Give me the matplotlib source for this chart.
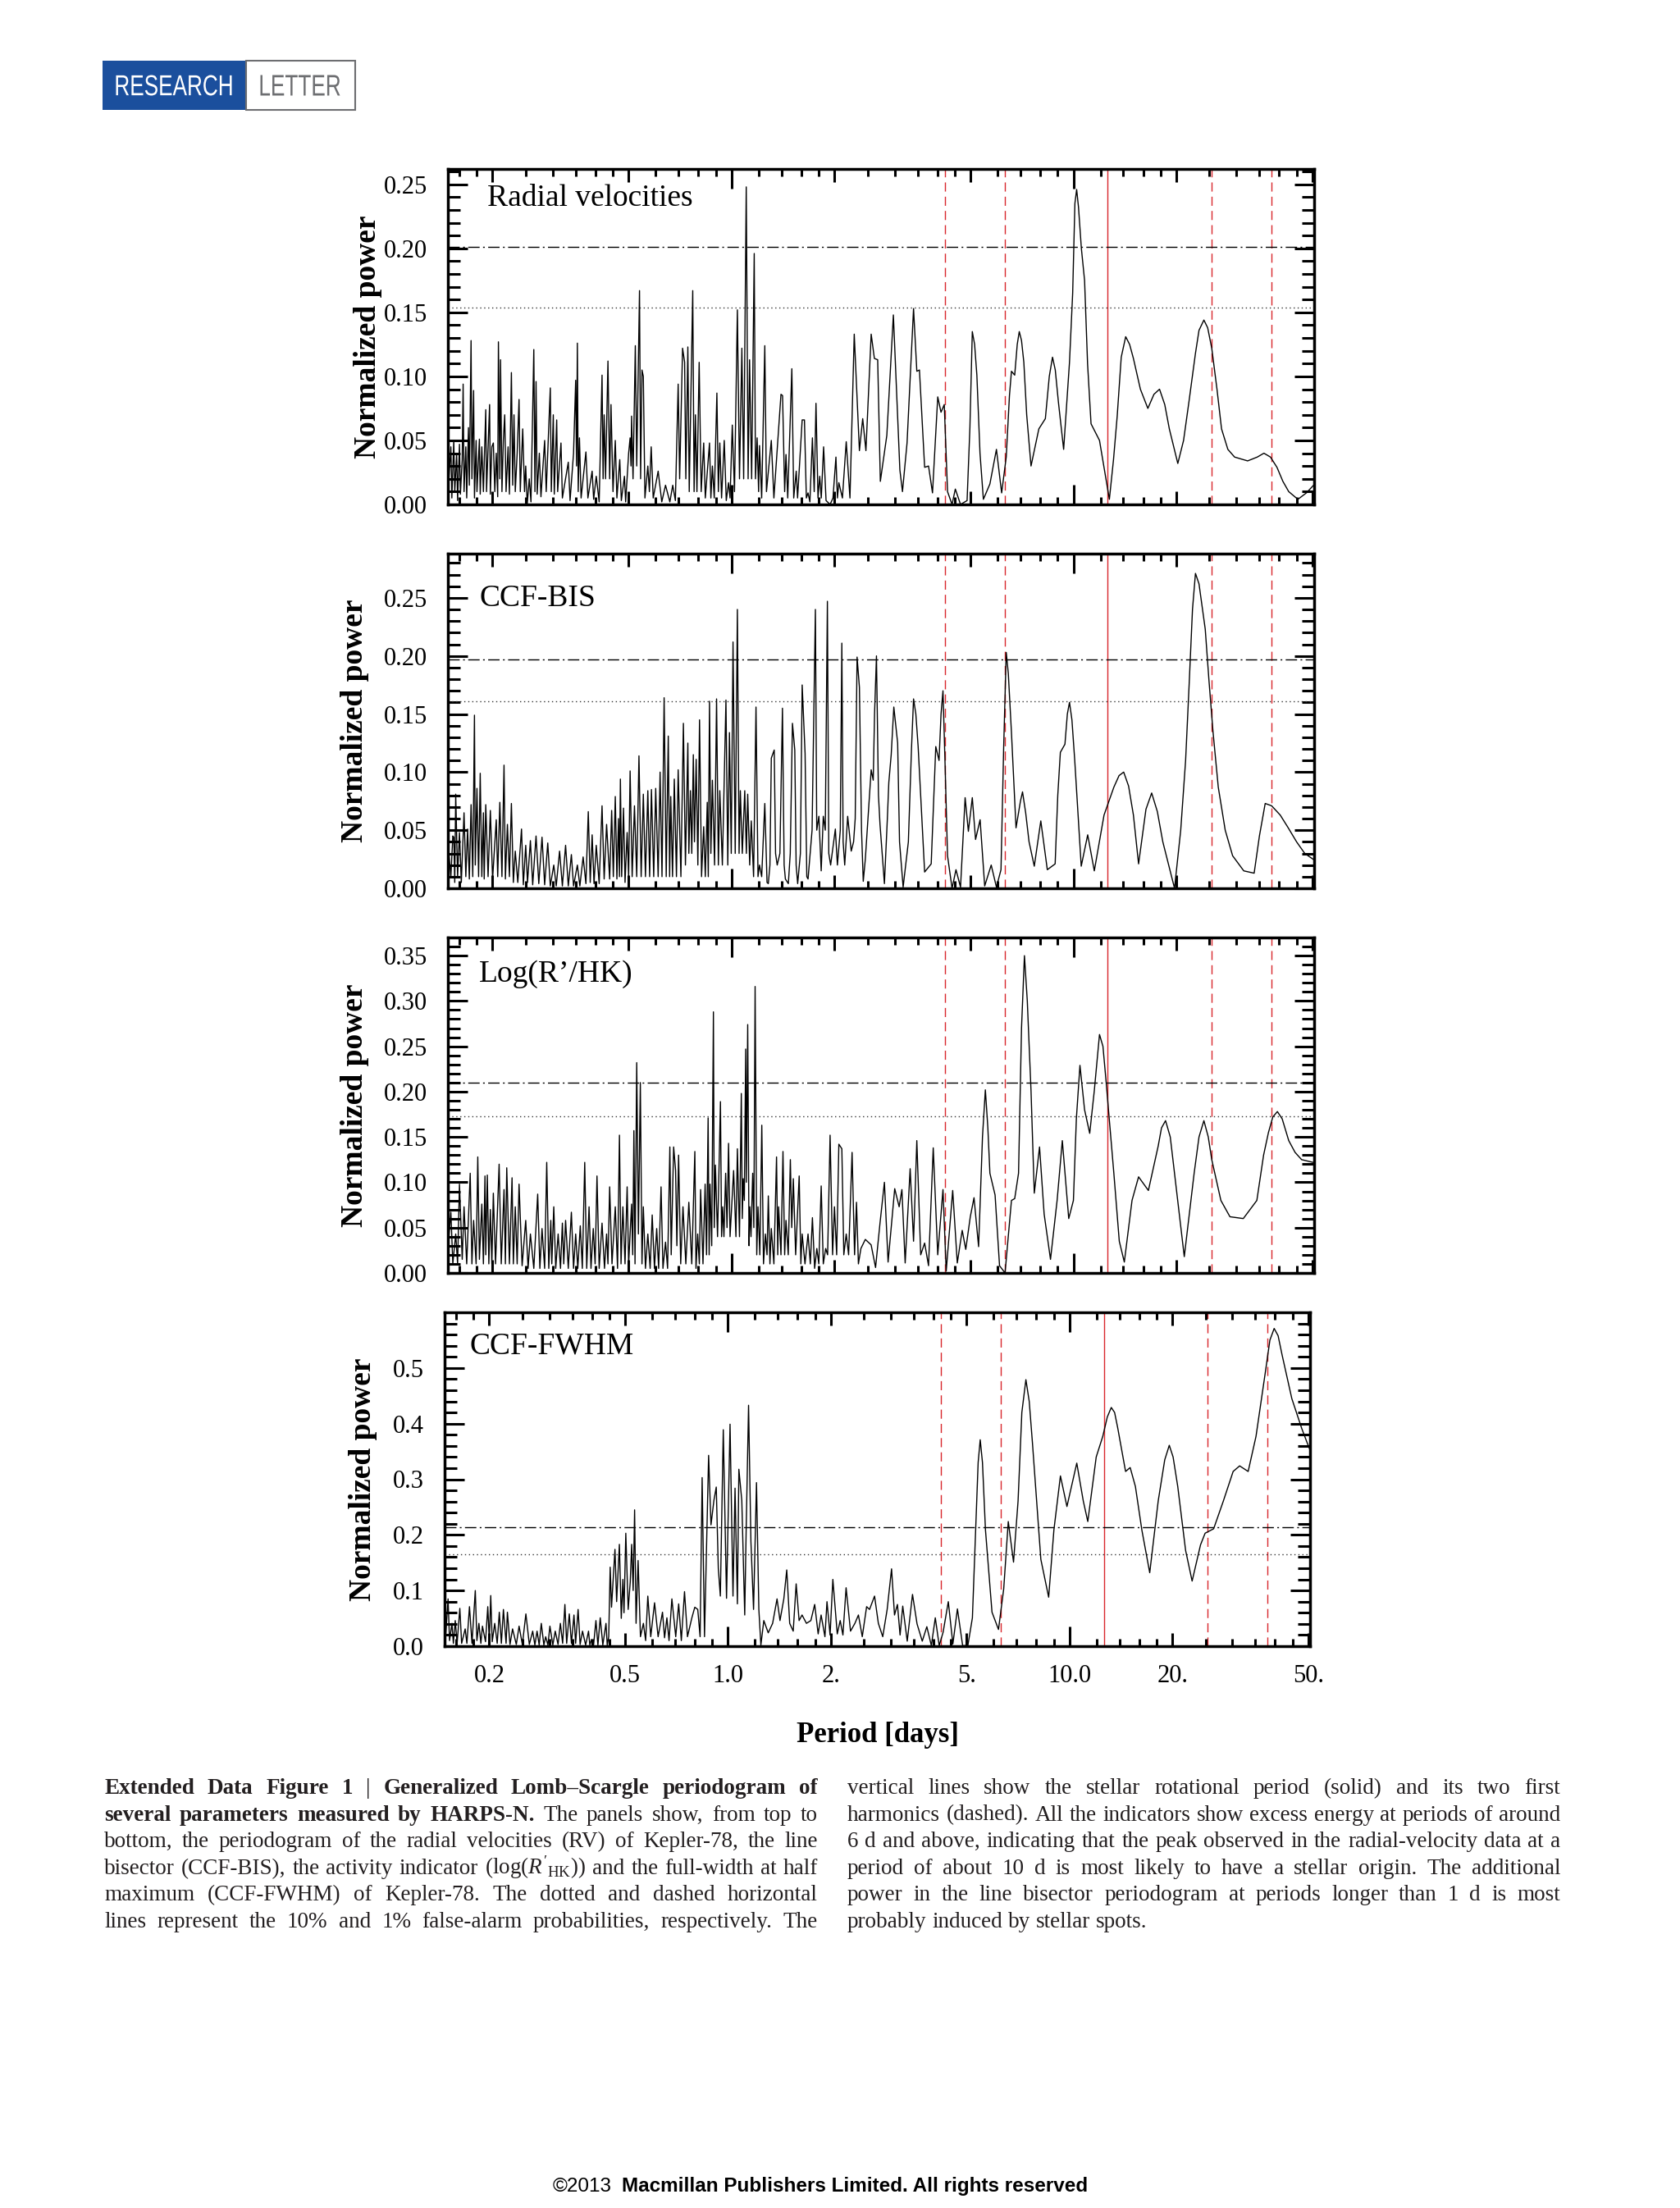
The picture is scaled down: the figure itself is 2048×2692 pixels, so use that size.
import numpy as np
import matplotlib
matplotlib.use("Agg")
import matplotlib.pyplot as plt
from matplotlib.patches import Rectangle, PathPatch
from matplotlib.textpath import TextPath
from matplotlib.font_manager import FontProperties
from matplotlib.transforms import Affine2D
from matplotlib.ticker import FixedLocator, FixedFormatter, NullFormatter, FormatStrFormatter

W, H = 2048, 2692
plt.rcParams['font.family'] = ['Liberation Serif', 'DejaVu Serif']
plt.rcParams['mathtext.fontset'] = 'custom'
plt.rcParams['mathtext.rm'] = 'Liberation Serif'
plt.rcParams['mathtext.it'] = 'Liberation Serif:italic'
plt.rcParams['mathtext.bf'] = 'Liberation Serif:bold'

# (period [d], normalized power)
rv_points = [
    (0.149,0.020),(0.151,0.045),(0.152,0.005),(0.154,0.050),(0.155,0.010),(0.157,0.040),(0.158,0.003),(0.160,0.047),(0.161,0.008),(0.163,0.035),
    (0.164,0.094),(0.165,0.010),(0.167,0.045),(0.168,0.005),(0.170,0.060),(0.171,0.015),(0.173,0.128),(0.174,0.020),(0.176,0.089),(0.177,0.005),
    (0.179,0.050),(0.180,0.010),(0.183,0.051),(0.184,0.008),(0.186,0.045),(0.188,0.010),(0.191,0.074),(0.192,0.010),(0.196,0.078),(0.197,0.008),
    (0.199,0.045),(0.201,0.048),(0.203,0.010),(0.205,0.040),(0.207,0.006),(0.208,0.127),(0.210,0.020),(0.211,0.113),(0.213,0.010),(0.215,0.050),
    (0.217,0.070),(0.219,0.010),(0.222,0.045),(0.224,0.008),(0.227,0.103),(0.229,0.015),(0.231,0.070),(0.233,0.010),(0.236,0.040),(0.239,0.082),
    (0.241,0.010),(0.245,0.059),(0.248,0.010),(0.250,0.030),(0.2525,0.000),(0.256,0.020),(0.259,0.002),(0.264,0.121),(0.266,0.010),(0.268,0.096),
    (0.270,0.008),(0.274,0.040),(0.277,0.006),(0.284,0.050),(0.287,0.010),(0.295,0.091),(0.297,0.010),(0.301,0.070),(0.303,0.008),(0.308,0.066),
    (0.310,0.010),(0.317,0.048),(0.320,0.005),(0.333,0.033),(0.337,0.003),(0.345,0.040),(0.350,0.097),(0.352,0.030),(0.354,0.126),(0.356,0.010),
    (0.359,0.052),(0.363,0.005),(0.375,0.041),(0.380,0.005),(0.391,0.026),(0.395,0.004),(0.402,0.022),(0.410,0.002),(0.418,0.101),(0.421,0.020),
    (0.424,0.070),(0.428,0.020),(0.435,0.112),(0.440,0.020),(0.444,0.078),(0.450,0.010),(0.457,0.050),(0.462,0.005),(0.471,0.035),(0.476,0.003),
    (0.486,0.022),(0.490,0.002),(0.500,0.040),(0.505,0.052),(0.508,0.030),(0.510,0.069),(0.515,0.020),(0.523,0.124),(0.528,0.030),(0.538,0.167),
    (0.542,0.020),(0.547,0.105),(0.552,0.100),(0.558,0.005),(0.569,0.030),(0.575,0.010),(0.582,0.045),(0.590,0.005),(0.610,0.026),(0.625,0.002),
    (0.641,0.015),(0.660,0.002),(0.673,0.015),(0.685,0.003),(0.698,0.094),(0.705,0.020),(0.719,0.122),(0.729,0.111),(0.735,0.020),(0.745,0.123),
    (0.752,0.010),(0.770,0.167),(0.777,0.010),(0.784,0.070),(0.792,0.010),(0.804,0.111),(0.815,0.010),(0.829,0.048),(0.838,0.005),(0.862,0.048),
    (0.870,0.005),(0.879,0.030),(0.890,0.005),(0.906,0.087),(0.915,0.010),(0.924,0.048),(0.935,0.005),(0.952,0.050),(0.965,0.003),(0.980,0.017),
    (0.990,0.005),(1.005,0.062),(1.020,0.010),(1.040,0.152),(1.055,0.020),(1.072,0.122),(1.085,0.020),(1.104,0.248),(1.118,0.020),(1.129,0.113),
    (1.145,0.020),(1.165,0.196),(1.175,0.020),(1.188,0.052),(1.200,0.010),(1.207,0.046),(1.225,0.005),(1.251,0.124),(1.265,0.010),(1.307,0.050),
    (1.330,0.005),(1.395,0.086),(1.410,0.085),(1.430,0.010),(1.443,0.039),(1.460,0.005),(1.501,0.106),(1.520,0.005),(1.546,0.026),(1.560,0.005),
    (1.609,0.066),(1.634,0.066),(1.655,0.005),(1.674,0.009),(1.695,0.002),(1.724,0.052),(1.745,0.010),(1.766,0.079),(1.790,0.005),(1.811,0.022),
    (1.830,0.005),(1.859,0.045),(1.890,0.003),(1.942,0.000),(1.980,0.005),(2.020,0.037),(2.040,0.005),(2.060,0.017),(2.110,0.005),(2.165,0.049),
    (2.220,0.005),(2.285,0.133),(2.366,0.042),(2.419,0.067),(2.472,0.042),(2.561,0.133),(2.617,0.114),(2.676,0.113),(2.724,0.018),(2.846,0.054),
    (2.974,0.148),(3.107,0.027),(3.162,0.010),(3.261,0.048),(3.407,0.153),(3.483,0.104),(3.545,0.105),(3.671,0.029),(3.769,0.030),(3.871,0.009),
    (4.010,0.084),(4.099,0.072),(4.190,0.078),(4.283,0.010),(4.416,0.000),(4.514,0.012),(4.675,0.000),(4.886,0.003),(4.980,0.060),(5.061,0.135),
    (5.140,0.125),(5.219,0.101),(5.330,0.040),(5.453,0.004),(5.698,0.016),(5.954,0.043),(6.167,0.009),(6.360,0.037),(6.500,0.085),(6.588,0.104),
    (6.734,0.101),(6.850,0.125),(6.944,0.135),(7.050,0.128),(7.161,0.111),(7.300,0.070),(7.516,0.030),(7.923,0.059),(8.278,0.067),(8.500,0.100),
    (8.687,0.115),(8.850,0.105),(9.038,0.080),(9.363,0.043),(9.739,0.111),(9.950,0.165),(10.10,0.235),(10.22,0.246),(10.35,0.232),(10.55,0.200),
    (10.78,0.175),(11.00,0.110),(11.26,0.063),(11.92,0.050),(12.74,0.004),(13.10,0.035),(13.43,0.069),(13.80,0.115),(14.22,0.131),(14.60,0.125),
    (14.98,0.114),(15.70,0.090),(16.51,0.075),(17.20,0.086),(17.86,0.090),(18.50,0.078),(19.08,0.059),(20.20,0.032),(21.00,0.050),(21.77,0.080),
    (22.75,0.118),(23.30,0.136),(24.08,0.144),(24.70,0.138),(25.39,0.122),(26.30,0.090),(27.12,0.059),(28.30,0.043),(29.61,0.037),(32.33,0.034),
    (34.50,0.037),(36.08,0.040),(37.70,0.037),(39.39,0.029),(41.00,0.018),(42.64,0.010),(45.35,0.004),(48.02,0.009),(50.82,0.016),
]

bis_points = [
    (0.149,0.030),(0.151,0.010),(0.153,0.045),(0.154,0.044),(0.155,0.005),(0.156,0.081),(0.158,0.010),(0.160,0.048),(0.162,0.005),(0.165,0.065),
    (0.167,0.010),(0.169,0.051),(0.171,0.008),(0.173,0.072),(0.175,0.010),(0.177,0.149),(0.178,0.020),(0.180,0.086),(0.182,0.010),(0.184,0.099),
    (0.186,0.010),(0.188,0.065),(0.189,0.008),(0.191,0.072),(0.194,0.010),(0.197,0.067),(0.200,0.008),(0.205,0.059),(0.207,0.010),(0.210,0.074),
    (0.213,0.010),(0.216,0.106),(0.218,0.008),(0.221,0.055),(0.224,0.010),(0.227,0.073),(0.230,0.005),(0.233,0.032),(0.237,0.005),(0.243,0.051),
    (0.246,0.003),(0.250,0.037),(0.253,0.005),(0.258,0.041),(0.262,0.003),(0.268,0.045),(0.273,0.004),(0.279,0.044),(0.284,0.003),(0.290,0.039),
    (0.295,0.002),(0.302,0.020),(0.307,0.002),(0.314,0.032),(0.320,0.002),(0.327,0.037),(0.333,0.002),(0.340,0.029),(0.345,0.002),(0.354,0.020),
    (0.360,0.002),(0.368,0.027),(0.375,0.004),(0.381,0.066),(0.386,0.005),(0.391,0.046),(0.396,0.004),(0.402,0.037),(0.410,0.004),(0.418,0.071),
    (0.424,0.008),(0.431,0.055),(0.440,0.008),(0.446,0.067),(0.451,0.010),(0.457,0.079),(0.462,0.008),(0.467,0.060),(0.470,0.010),(0.473,0.094),
    (0.477,0.010),(0.483,0.069),(0.488,0.005),(0.495,0.048),(0.500,0.010),(0.505,0.101),(0.512,0.010),(0.520,0.071),(0.528,0.010),(0.536,0.114),
    (0.544,0.010),(0.552,0.081),(0.560,0.010),(0.569,0.084),(0.576,0.010),(0.583,0.085),(0.592,0.010),(0.600,0.086),(0.610,0.010),(0.618,0.100),
    (0.626,0.010),(0.635,0.164),(0.644,0.010),(0.653,0.131),(0.659,0.010),(0.664,0.079),(0.672,0.010),(0.680,0.094),(0.690,0.010),(0.698,0.102),
    (0.711,0.010),(0.723,0.142),(0.733,0.020),(0.745,0.125),(0.750,0.030),(0.758,0.084),(0.765,0.030),(0.773,0.115),(0.779,0.040),(0.788,0.111),
    (0.797,0.020),(0.806,0.145),(0.817,0.010),(0.829,0.053),(0.838,0.010),(0.849,0.074),(0.855,0.010),(0.862,0.161),(0.870,0.030),(0.879,0.093),
    (0.892,0.020),(0.904,0.163),(0.915,0.020),(0.924,0.084),(0.940,0.020),(0.963,0.162),(0.975,0.020),(0.986,0.134),(0.998,0.030),(1.010,0.212),
    (1.025,0.030),(1.040,0.240),(1.052,0.030),(1.061,0.084),(1.075,0.030),(1.093,0.084),(1.105,0.030),(1.115,0.081),(1.130,0.020),(1.142,0.058),
    (1.160,0.010),(1.179,0.156),(1.195,0.010),(1.207,0.020),(1.225,0.010),(1.251,0.073),(1.270,0.005),(1.281,0.004),(1.295,0.020),(1.307,0.112),
    (1.333,0.119),(1.345,0.030),(1.360,0.020),(1.385,0.030),(1.409,0.155),(1.425,0.020),(1.437,0.008),(1.466,0.004),(1.485,0.030),(1.507,0.142),
    (1.531,0.119),(1.545,0.020),(1.561,0.004),(1.590,0.030),(1.609,0.175),(1.641,0.116),(1.660,0.010),(1.674,0.008),(1.720,0.050),(1.759,0.240),
    (1.775,0.050),(1.801,0.062),(1.829,0.015),(1.855,0.062),(1.880,0.050),(1.907,0.247),(1.925,0.030),(1.949,0.020),(2.012,0.051),(2.040,0.020),
    (2.080,0.050),(2.102,0.211),(2.120,0.040),(2.143,0.020),(2.186,0.062),(2.239,0.032),(2.275,0.040),(2.300,0.060),(2.329,0.199),(2.366,0.173),
    (2.400,0.050),(2.428,0.006),(2.462,0.025),(2.561,0.102),(2.597,0.093),(2.620,0.150),(2.654,0.200),(2.690,0.080),(2.718,0.055),(2.800,0.004),
    (2.856,0.060),(2.884,0.091),(2.931,0.115),(2.983,0.156),(3.061,0.125),(3.100,0.040),(3.176,0.001),(3.290,0.040),(3.360,0.120),(3.407,0.163),
    (3.460,0.150),(3.514,0.122),(3.671,0.014),(3.837,0.021),(3.957,0.122),(4.045,0.110),(4.100,0.150),(4.154,0.170),(4.210,0.110),(4.283,0.028),
    (4.416,0.000),(4.534,0.016),(4.675,0.001),(4.822,0.078),(4.929,0.049),(5.061,0.078),(5.173,0.042),(5.334,0.059),(5.501,0.002),(5.748,0.020),
    (5.954,0.001),(6.140,0.016),(6.250,0.120),(6.360,0.203),(6.450,0.185),(6.588,0.134),(6.794,0.052),(7.000,0.075),(7.098,0.083),(7.250,0.065),
    (7.417,0.040),(7.683,0.019),(8.028,0.058),(8.388,0.016),(8.842,0.021),(9.000,0.080),(9.158,0.117),(9.445,0.124),(9.600,0.150),(9.739,0.160),
    (9.900,0.145),(10.09,0.110),(10.54,0.019),(11.01,0.046),(11.51,0.015),(12.29,0.063),(13.13,0.087),(13.60,0.097),(14.03,0.100),(14.50,0.088),
    (14.98,0.063),(15.51,0.021),(16.30,0.068),(16.94,0.082),(17.60,0.066),(18.26,0.040),(19.76,0.000),(20.60,0.050),(21.29,0.110),(21.80,0.175),
    (22.30,0.240),(22.75,0.271),(23.30,0.262),(24.30,0.223),(24.90,0.180),(25.60,0.135),(26.53,0.087),(27.80,0.050),(29.22,0.028),(31.50,0.015),
    (33.78,0.013),(35.00,0.045),(36.39,0.073),(38.00,0.071),(40.27,0.063),(42.50,0.052),(44.95,0.040),(47.50,0.030),(50.82,0.024),
]

rhk_points = [
    (0.149,0.040),(0.151,0.067),(0.153,0.010),(0.156,0.043),(0.158,0.010),(0.160,0.098),(0.163,0.015),(0.165,0.073),(0.168,0.010),(0.172,0.110),
    (0.174,0.010),(0.176,0.058),(0.179,0.010),(0.181,0.128),(0.183,0.015),(0.186,0.076),(0.188,0.010),(0.190,0.107),(0.191,0.020),(0.193,0.108),
    (0.195,0.010),(0.197,0.070),(0.199,0.010),(0.201,0.088),(0.204,0.010),(0.209,0.120),(0.212,0.010),(0.216,0.092),(0.218,0.010),(0.220,0.116),
    (0.224,0.010),(0.228,0.105),(0.230,0.010),(0.233,0.073),(0.236,0.010),(0.239,0.098),(0.244,0.008),(0.250,0.058),(0.254,0.005),(0.258,0.043),
    (0.264,0.005),(0.271,0.087),(0.275,0.005),(0.279,0.049),(0.284,0.005),(0.288,0.122),(0.292,0.005),(0.296,0.058),(0.298,0.010),(0.302,0.073),
    (0.306,0.005),(0.311,0.043),(0.316,0.005),(0.320,0.055),(0.323,0.010),(0.327,0.058),(0.333,0.005),(0.340,0.067),(0.345,0.005),(0.350,0.043),
    (0.355,0.005),(0.361,0.052),(0.366,0.005),(0.372,0.122),(0.377,0.005),(0.383,0.073),(0.388,0.005),(0.394,0.049),(0.399,0.010),(0.404,0.107),
    (0.410,0.005),(0.418,0.055),(0.425,0.005),(0.431,0.043),(0.435,0.010),(0.440,0.095),(0.447,0.010),(0.457,0.073),(0.464,0.005),(0.470,0.152),
    (0.475,0.010),(0.481,0.073),(0.488,0.010),(0.495,0.095),(0.500,0.010),(0.510,0.076),(0.514,0.020),(0.518,0.157),(0.522,0.010),(0.528,0.232),
    (0.534,0.043),(0.541,0.210),(0.547,0.010),(0.552,0.073),(0.560,0.005),(0.569,0.043),(0.578,0.005),(0.586,0.064),(0.595,0.005),(0.604,0.049),
    (0.612,0.005),(0.622,0.095),(0.630,0.005),(0.641,0.034),(0.650,0.005),(0.660,0.139),(0.666,0.020),(0.677,0.139),(0.686,0.113),(0.692,0.030),
    (0.700,0.130),(0.710,0.010),(0.721,0.073),(0.735,0.010),(0.750,0.078),(0.765,0.010),(0.781,0.134),(0.787,0.005),(0.796,0.043),(0.805,0.010),
    (0.812,0.092),(0.825,0.010),(0.837,0.098),(0.845,0.020),(0.854,0.171),(0.860,0.020),(0.865,0.098),(0.875,0.030),(0.885,0.288),(0.890,0.050),
    (0.897,0.119),(0.910,0.040),(0.928,0.189),(0.935,0.040),(0.942,0.073),(0.950,0.040),(0.961,0.110),(0.970,0.050),(0.980,0.143),(0.990,0.040),
    (1.014,0.113),(1.030,0.040),(1.040,0.137),(1.055,0.040),(1.068,0.198),(1.075,0.060),(1.082,0.104),(1.090,0.080),(1.100,0.247),(1.105,0.100),
    (1.115,0.274),(1.125,0.030),(1.131,0.073),(1.140,0.040),(1.153,0.110),(1.162,0.050),(1.172,0.316),(1.185,0.020),(1.195,0.073),(1.210,0.020),
    (1.226,0.163),(1.240,0.010),(1.256,0.043),(1.270,0.020),(1.281,0.085),(1.295,0.010),(1.307,0.049),(1.330,0.010),(1.354,0.128),(1.365,0.020),
    (1.373,0.073),(1.395,0.020),(1.414,0.134),(1.430,0.020),(1.443,0.058),(1.465,0.020),(1.486,0.125),(1.500,0.050),(1.516,0.104),(1.540,0.020),
    (1.577,0.107),(1.595,0.010),(1.609,0.043),(1.640,0.010),(1.674,0.043),(1.700,0.010),(1.724,0.061),(1.750,0.005),(1.776,0.027),(1.800,0.010),
    (1.829,0.096),(1.855,0.010),(1.885,0.027),(1.910,0.020),(1.942,0.152),(1.975,0.020),(2.000,0.073),(2.030,0.020),(2.060,0.142),(2.102,0.137),
    (2.130,0.020),(2.165,0.043),(2.200,0.020),(2.252,0.133),(2.290,0.020),(2.320,0.078),(2.350,0.010),(2.390,0.027),(2.462,0.037),(2.560,0.031),
    (2.638,0.006),(2.718,0.055),(2.800,0.100),(2.870,0.012),(3.001,0.093),(3.092,0.073),(3.150,0.092),(3.220,0.011),(3.330,0.115),(3.407,0.035),
    (3.483,0.146),(3.575,0.020),(3.671,0.033),(3.769,0.008),(3.890,0.138),(4.010,0.020),(4.154,0.092),(4.245,0.002),(4.435,0.091),(4.574,0.011),
    (4.728,0.047),(4.843,0.026),(4.993,0.062),(5.120,0.083),(5.280,0.029),(5.420,0.150),(5.526,0.202),(5.620,0.160),(5.698,0.110),(5.900,0.086),
    (6.080,0.008),(6.310,0.000),(6.588,0.080),(6.734,0.082),(6.910,0.110),(7.050,0.270),(7.190,0.350),(7.330,0.300),(7.516,0.201),(7.683,0.088),
    (7.960,0.139),(8.210,0.065),(8.570,0.015),(8.960,0.080),(9.280,0.146),(9.690,0.060),(10.00,0.080),(10.20,0.170),(10.45,0.229),(10.78,0.180),
    (11.16,0.154),(11.51,0.201),(11.92,0.263),(12.20,0.250),(12.45,0.213),(13.13,0.110),(13.62,0.035),(14.09,0.012),(14.84,0.080),(15.51,0.106),
    (16.57,0.091),(17.70,0.140),(18.10,0.160),(18.60,0.168),(19.20,0.150),(19.76,0.110),(21.10,0.018),(22.55,0.110),(23.30,0.150),(24.08,0.168),
    (24.80,0.150),(25.39,0.125),(27.00,0.080),(28.70,0.062),(31.40,0.060),(34.40,0.080),(36.00,0.130),(37.20,0.155),(38.30,0.172),(39.50,0.178),
    (40.80,0.170),(42.64,0.146),(44.50,0.133),(46.50,0.125),(50.20,0.122),
]

fwhm_points = [
    (0.149,0.017),(0.1515,0.085),(0.153,0.010),(0.1555,0.041),(0.157,0.005),(0.159,0.046),(0.161,0.005),(0.164,0.068),(0.166,0.005),(0.170,0.031),
    (0.172,0.005),(0.175,0.071),(0.178,0.005),(0.182,0.100),(0.184,0.010),(0.1865,0.041),(0.189,0.005),(0.191,0.036),(0.195,0.008),(0.198,0.071),
    (0.200,0.010),(0.202,0.091),(0.204,0.008),(0.2075,0.041),(0.211,0.005),(0.214,0.061),(0.217,0.005),(0.220,0.066),(0.224,0.005),(0.226,0.061),
    (0.230,0.003),(0.234,0.031),(0.240,0.003),(0.2445,0.036),(0.250,0.003),(0.256,0.058),(0.262,0.003),(0.268,0.027),(0.272,0.002),(0.276,0.027),
    (0.280,0.002),(0.284,0.041),(0.289,0.002),(0.2925,0.017),(0.297,0.002),(0.301,0.036),(0.307,0.002),(0.312,0.027),(0.318,0.003),(0.323,0.041),
    (0.328,0.005),(0.333,0.075),(0.337,0.005),(0.343,0.058),(0.348,0.005),(0.354,0.056),(0.358,0.005),(0.364,0.066),(0.369,0.003),(0.375,0.027),
    (0.383,0.002),(0.3905,0.027),(0.394,0.002),(0.3985,0.012),(0.404,0.002),(0.4105,0.046),(0.416,0.002),(0.4226,0.051),(0.430,0.002),(0.4393,0.041),
    (0.443,0.002),(0.4475,0.017),(0.4519,0.142),(0.4560,0.070),(0.4667,0.174),(0.4720,0.080),(0.4808,0.183),(0.4870,0.050),(0.4923,0.120),(0.4960,0.060),
    (0.5021,0.203),(0.5102,0.066),(0.5173,0.115),(0.5224,0.183),(0.5276,0.100),(0.5328,0.245),(0.5381,0.041),(0.5455,0.154),(0.5542,0.017),(0.5653,0.041),
    (0.574,0.010),(0.5824,0.090),(0.5940,0.017),(0.6095,0.078),(0.6243,0.017),(0.6430,0.061),(0.652,0.015),(0.6624,0.051),(0.672,0.010),(0.6850,0.085),
    (0.7030,0.017),(0.7171,0.076),(0.730,0.010),(0.7459,0.098),(0.7609,0.017),(0.7838,0.051),(0.7995,0.070),(0.8155,0.066),(0.8286,0.017),(0.8400,0.303),
    (0.8535,0.017),(0.8775,0.343),(0.8916,0.218),(0.9094,0.262),(0.9239,0.286),(0.9367,0.140),(0.9497,0.090),(0.9687,0.389),(0.9901,0.086),(1.0139,0.399),
    (1.0342,0.090),(1.0486,0.284),(1.0654,0.076),(1.0760,0.318),(1.0975,0.262),(1.1194,0.056),(1.1306,0.213),(1.1487,0.433),(1.1671,0.188),(1.1880,0.066),
    (1.2118,0.294),(1.2312,0.066),(1.2481,0.002),(1.2731,0.046),(1.3116,0.024),(1.3511,0.041),(1.3919,0.085),(1.4198,0.046),(1.4569,0.085),(1.4860,0.137),
    (1.5157,0.041),(1.5522,0.027),(1.5833,0.112),(1.6150,0.046),(1.6474,0.056),(1.6970,0.041),(1.7482,0.046),(1.7940,0.075),(1.8365,0.022),(1.8733,0.056),
    (1.9222,0.017),(1.9491,0.080),(1.990,0.020),(2.0277,0.120),(2.0889,0.022),(2.1307,0.046),(2.170,0.020),(2.2170,0.105),(2.2840,0.027),(2.3527,0.041),
    (2.4093,0.056),(2.4723,0.017),(2.5460,0.071),(2.5966,0.066),(2.6858,0.090),(2.7558,0.041),(2.8385,0.017),(2.9242,0.066),(3.0124,0.139),(3.0726,0.056),
    (3.1340,0.075),(3.190,0.020),(3.248,0.072),(3.348,0.009),(3.469,0.093),(3.577,0.040),(3.705,0.009),(3.821,0.035),(3.939,0.001),(4.045,0.051),
    (4.153,0.001),(4.264,0.025),(4.416,0.080),(4.554,0.004),(4.696,0.067),(4.864,0.001),(5.038,0.001),(5.195,0.051),(5.311,0.209),(5.400,0.330),
    (5.476,0.371),(5.560,0.330),(5.673,0.209),(5.929,0.061),(6.194,0.030),(6.416,0.103),(6.616,0.224),(6.855,0.151),(7.068,0.261),(7.250,0.420),
    (7.451,0.479),(7.620,0.440),(7.786,0.366),(8.241,0.156),(8.687,0.088),(9.000,0.209),(9.404,0.306),(9.826,0.251),(10.50,0.329),(10.97,0.261),
    (11.31,0.224),(11.97,0.340),(12.51,0.377),(12.90,0.412),(13.25,0.429),(13.55,0.420),(13.84,0.392),(14.59,0.314),(15.05,0.321),(15.59,0.287),
    (16.28,0.209),(17.17,0.132),(18.18,0.261),(19.00,0.335),(19.59,0.361),(20.10,0.340),(20.74,0.287),(21.87,0.172),(22.85,0.117),(24.18,0.182),
    (24.94,0.203),(26.42,0.211),(28.21,0.261),(30.13,0.314),(31.48,0.324),(33.34,0.314),(35.15,0.377),(37.53,0.497),(38.60,0.550),(39.73,0.571),
    (40.80,0.558),(41.89,0.524),(44.75,0.445),(47.80,0.392),(49.95,0.361),(50.80,0.350),
]

panel_names = ["Radial velocities", "CCF-BIS", "Log(R\u2019/HK)", "CCF-FWHM"]
panel_series = [rv_points, bis_points, rhk_points, fwhm_points]
fap_10 = [0.154, 0.161, 0.173, 0.165]   # dotted lines
fap_01 = [0.201, 0.197, 0.210, 0.214]   # dashed lines
rot_period = 12.6
harmonic_periods = [4.2, 6.3, 25.3, 38.0]
y_max = [0.262, 0.288, 0.370, 0.600]
y_ticks = [[0.00, 0.05, 0.10, 0.15, 0.20, 0.25],
           [0.00, 0.05, 0.10, 0.15, 0.20, 0.25],
           [0.00, 0.05, 0.10, 0.15, 0.20, 0.25, 0.30, 0.35],
           [0.0, 0.1, 0.2, 0.3, 0.4, 0.5]]
y_fmt = ['%.2f', '%.2f', '%.2f', '%.1f']
y_minor_step = [0.01, 0.01, 0.01, 0.02]
x_major = [0.2, 0.5, 1.0, 2.0, 5.0, 10.0, 20.0, 50.0]
x_major_labels = ["0.2", "0.5", "1.0", "2.", "5.", "10.0", "20.", "50."]
x_minor = [0.16, 0.18, 0.25, 0.3, 0.35, 0.4, 0.45, 0.6, 0.7, 0.8, 0.9,
           1.2, 1.4, 1.6, 1.8, 2.5, 3, 3.5, 4, 4.5, 6, 7, 8, 9,
           12, 14, 16, 18, 25, 30, 35, 40, 45]

# layout in page pixels: left, top, right, bottom
panel_px = [(546, 206, 1602, 615), (546, 675, 1602, 1083),
            (546, 1143, 1602, 1552), (542, 1600, 1597, 2007)]
name_pos = [(0.045, 0.912), (0.036, 0.866), (0.036, 0.891), (0.029, 0.899)]
ylabel_x = [448, 433, 433, 443]

RED = '#d8262c'
INK = '#231f20'

fig = plt.figure(figsize=(W / 100, H / 100), dpi=100)
fig.patch.set_facecolor('white')

for i in range(4):
    l, t, r, b = panel_px[i]
    ax = fig.add_axes([l / W, 1 - b / H, (r - l) / W, (b - t) / H])
    per = [p for p, _ in panel_series[i]]
    pw = [v for _, v in panel_series[i]]

    ax.axhline(fap_01[i], color='black', lw=1.0, ls=(0, (10, 3, 1.5, 3)), zorder=2)
    ax.axhline(fap_10[i], color='#333333', lw=1.0, ls=(0, (1, 2.5)), zorder=2)
    for hp in harmonic_periods:
        ax.axvline(hp, color=RED, lw=1.0, ls=(0, (8, 4.5)), zorder=1)
    ax.axvline(rot_period, color=RED, lw=1.0, zorder=1)
    ax.plot(per, pw, color='black', lw=1.0, zorder=3)

    ax.set_xscale('log')
    ax.set_xlim(0.148, 50.6)
    ax.set_ylim(0, y_max[i])
    ax.xaxis.set_major_locator(FixedLocator(x_major))
    ax.xaxis.set_minor_locator(FixedLocator(x_minor))
    ax.xaxis.set_minor_formatter(NullFormatter())
    if i == 3:
        ax.xaxis.set_major_formatter(FixedFormatter(x_major_labels))
    else:
        ax.xaxis.set_major_formatter(NullFormatter())
    ax.yaxis.set_major_locator(FixedLocator(y_ticks[i]))
    ax.yaxis.set_minor_locator(FixedLocator(np.arange(0, y_max[i], y_minor_step[i])))
    ax.yaxis.set_major_formatter(FormatStrFormatter(y_fmt[i]))

    ax.tick_params(which='both', direction='in', top=True, right=True, width=2.2,
                   labelsize=22, colors='black')
    ax.tick_params(axis='x', which='major', length=11.5, pad=16)
    ax.tick_params(axis='x', which='minor', length=6.5)
    ax.tick_params(axis='y', which='major', length=17, pad=18)
    ax.tick_params(axis='y', which='minor', length=11)
    for sp in ax.spines.values():
        sp.set_linewidth(2.5)
    for tk, loc in zip(ax.xaxis.get_major_ticks(), x_major):
        if loc in (1.0, 10.0):
            tk.tick1line.set_markersize(17)
            tk.tick2line.set_markersize(17)

    ax.text(name_pos[i][0], name_pos[i][1], panel_names[i], transform=ax.transAxes,
            fontsize=27, ha='left', va='center')
    fig.text(ylabel_x[i] / W, 1 - (t + b) / 2 / H, "Normalized power", rotation=90,
             fontsize=27, fontweight='bold', ha='center', va='center')

fig.text(1070 / W, 1 - 2115 / H, "Period [days]", fontsize=25, fontweight='bold',
         ha='center', va='center')


# header tab, with the condensed lettering drawn as squeezed text paths
def squeezed_text(s, cx, cy, width_px, height_px, color):
    tp = TextPath((0, 0), s, size=100, prop=FontProperties(family='Liberation Sans'))
    bb = tp.get_extents()
    tr = (Affine2D().translate(-(bb.x0 + bb.x1) / 2, -(bb.y0 + bb.y1) / 2)
          .scale(width_px / bb.width, height_px / bb.height)
          .translate(cx, H - cy).scale(1 / W, 1 / H))
    fig.add_artist(PathPatch(tr.transform_path(tp), transform=fig.transFigure,
                             facecolor=color, edgecolor='none'))


fig.add_artist(Rectangle((125 / W, 1 - 134 / H), 175 / W, 60 / H, transform=fig.transFigure,
                         facecolor='#1b4f9d', edgecolor='none'))
fig.add_artist(Rectangle((300 / W, 1 - 134 / H), 133 / W, 60 / H, transform=fig.transFigure,
                         facecolor='white', edgecolor='#6d6e71', lw=1.5))
squeezed_text("RESEARCH", 212, 104, 141, 25, 'white')
squeezed_text("LETTER", 366, 104, 97, 25, '#6d6e71')

# caption, justified line by line
renderer = fig.canvas.get_renderer()


def words(*segs):
    out = []
    for txt, wt in segs:
        out += [(w, wt) for w in txt.split()]
    return out


def put_line(tokens, x0, x1, y, size=19.5, justify=True):
    while True:
        arts = [fig.text(0, 1 - y / H, w, fontsize=size, fontweight=wt, color=INK,
                         ha='left', va='baseline') for w, wt in tokens]
        widths = [a.get_window_extent(renderer).width for a in arts]
        space = size * 100 / 72 * 0.25
        gap = ((x1 - x0) - sum(widths)) / max(len(arts) - 1, 1)
        if gap >= space * 0.7 or size < 15:
            break
        for a in arts:
            a.remove()
        size -= 0.5
    if not justify:
        gap = space
    x = x0
    for a, w in zip(arts, widths):
        a.set_x(x / W)
        x += w + gap


B, N = 'bold', 'normal'
left_lines = [
    words(("Extended Data Figure 1", B), ("|", N), ("Generalized Lomb\u2013Scargle periodogram of", B)),
    words(("several parameters measured by HARPS-N.", B), ("The panels show, from top to", N)),
    words(("bottom, the periodogram of the radial velocities (RV) of Kepler-78, the line", N)),
    words(("bisector (CCF-BIS), the activity indicator (log($R'_{\\mathrm{HK}}$)) and the full-width at half", N)),
    words(("maximum (CCF-FWHM) of Kepler-78. The dotted and dashed horizontal", N)),
    words(("lines represent the 10% and 1% false-alarm probabilities, respectively. The", N)),
]
right_lines = [
    words(("vertical lines show the stellar rotational period (solid) and its two first", N)),
    words(("harmonics (dashed). All the indicators show excess energy at periods of around", N)),
    words(("6 d and above, indicating that the peak observed in the radial-velocity data at a", N)),
    words(("period of about 10 d is most likely to have a stellar origin. The additional", N)),
    words(("power in the line bisector periodogram at periods longer than 1 d is most", N)),
    words(("probably induced by stellar spots.", N)),
]
for k, toks in enumerate(left_lines):
    put_line(toks, 127, 997, 2187 + k * 32.6)
for k, toks in enumerate(right_lines):
    put_line(toks, 1033, 1902, 2187 + k * 32.6, justify=(k < len(right_lines) - 1))

# footer
sans = ['Liberation Sans', 'DejaVu Sans']
f1 = fig.text(0, 1 - 2672 / H, "\u00a92013", family=sans, fontsize=17.5, color='black', va='baseline')
f2 = fig.text(0, 1 - 2672 / H, "Macmillan Publishers Limited. All rights reserved", family=sans,
              fontsize=17.5, fontweight='bold', color='black', va='baseline')
w1 = f1.get_window_extent(renderer).width
w2 = f2.get_window_extent(renderer).width
x_start = 1000 - (w1 + 12 + w2) / 2
f1.set_x(x_start / W)
f2.set_x((x_start + w1 + 12) / W)

fig.savefig("out.png", dpi=100)
